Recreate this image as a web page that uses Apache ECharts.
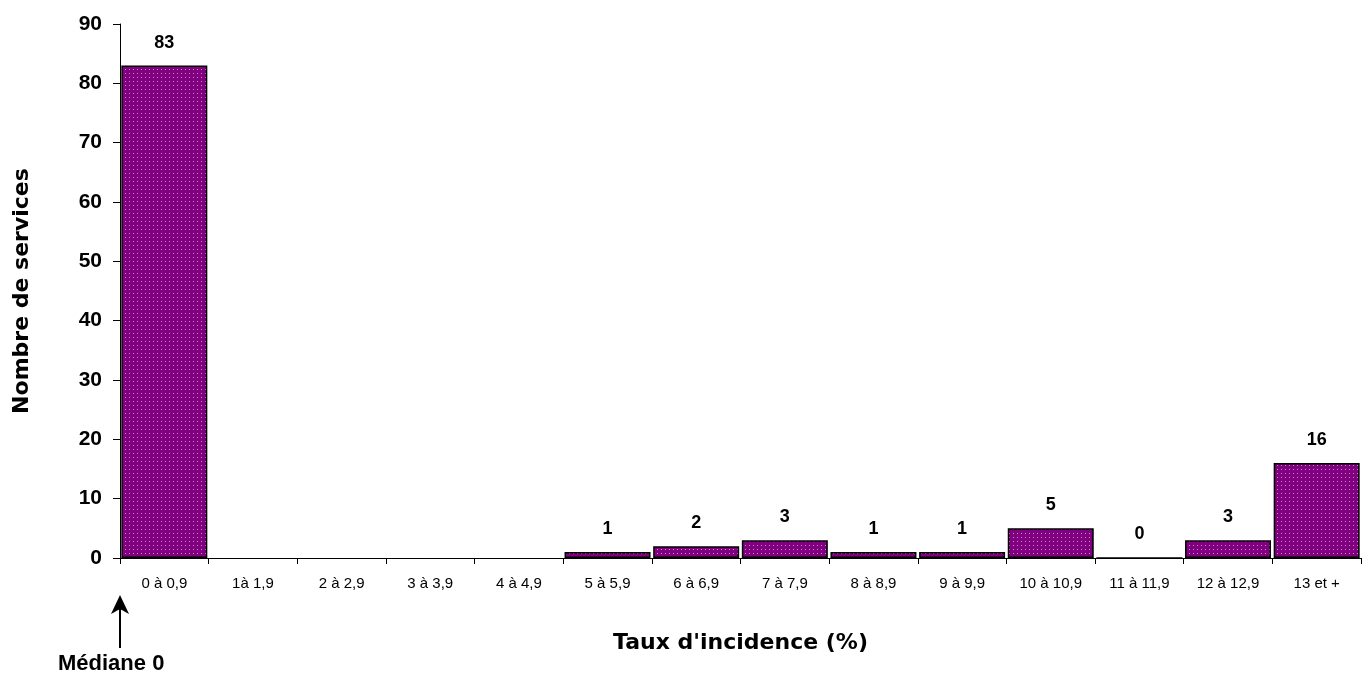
<!DOCTYPE html>
<html>
<head>
<meta charset="utf-8">
<script src="https://cdn.jsdelivr.net/npm/echarts@6/dist/echarts.min.js"></script>
<style>
  html, body { margin: 0; padding: 0; background: #fff; }
  #chart { width: 1362px; height: 675px; }
</style>
</head>
<body>
<div id="chart"></div>
<script>
var categories = ['0 à 0,9', '1à 1,9', '2 à 2,9', '3 à 3,9', '4 à 4,9', '5 à 5,9', '6 à 6,9',
  '7 à 7,9', '8 à 8,9', '9 à 9,9', '10 à 10,9', '11 à 11,9', '12 à 12,9', '13 et +']
var services = [83, null, null, null, null, 1, 2, 3, 1, 1, 5, 0, 3, 16]
var yTicks = [0, 10, 20, 30, 40, 50, 60, 70, 80, 90]

// dotted purple fill
var tile = document.createElement('canvas')
tile.width = 4
tile.height = 4
var ctx = tile.getContext('2d')
ctx.fillStyle = '#800080'
ctx.fillRect(0, 0, 4, 4)
ctx.fillStyle = '#c98bc9'
ctx.fillRect(1, 1, 1, 1)

var myChart = echarts.init(document.getElementById('chart'))

myChart.setOption({
  animation: false,
  grid: { left: 120, right: 1, top: 24, bottom: 117 },
  xAxis: {
    type: 'category',
    data: categories,
    name: "Taux d'incidence (%)",
    nameLocation: 'middle',
    nameGap: 74,
    nameTextStyle: { fontFamily: 'DejaVu Sans', fontWeight: 'bold', fontSize: 22, color: '#000' },
    axisLine: { lineStyle: { color: '#000', width: 1 } },
    axisTick: { show: true, length: 6, lineStyle: { color: '#000' } },
    axisLabel: { fontFamily: 'Arial, Liberation Sans', fontSize: 15, color: '#000', margin: 18, interval: 0 }
  },
  yAxis: {
    type: 'value',
    min: 0,
    max: yTicks[yTicks.length - 1],
    interval: 10,
    name: 'Nombre de services',
    nameLocation: 'middle',
    nameGap: 87,
    nameTextStyle: { fontFamily: 'DejaVu Sans', fontWeight: 'bold', fontSize: 22, color: '#000' },
    axisLine: { show: true, lineStyle: { color: '#000', width: 1 } },
    axisTick: { show: true, length: 7, lineStyle: { color: '#000' } },
    splitLine: { show: false },
    axisLabel: { fontFamily: 'Arial, Liberation Sans', fontWeight: 'bold', fontSize: 21, color: '#000', margin: 18 }
  },
  series: [
    {
      type: 'bar',
      data: services,
      barCategoryGap: '3%',
      itemStyle: {
        color: { image: tile, repeat: 'repeat' },
        borderColor: '#000',
        borderWidth: 1.5
      },
      label: {
        show: true,
        position: 'top',
        distance: 14,
        fontFamily: 'Arial, Liberation Sans',
        fontWeight: 'bold',
        fontSize: 18,
        color: '#000'
      }
    }
  ],
  graphic: [
    { type: 'line', shape: { x1: 120, y1: 648, x2: 120, y2: 605 }, style: { stroke: '#000', lineWidth: 2 } },
    { type: 'polygon', shape: { points: [[120, 595], [111, 614], [120, 609], [129, 614]] }, style: { fill: '#000' } },
    { type: 'text', x: 58, y: 664, style: { text: 'Médiane 0', font: 'bold 22px Arial, Liberation Sans', fill: '#000', verticalAlign: 'middle' } }
  ]
})
</script>
</body>
</html>
